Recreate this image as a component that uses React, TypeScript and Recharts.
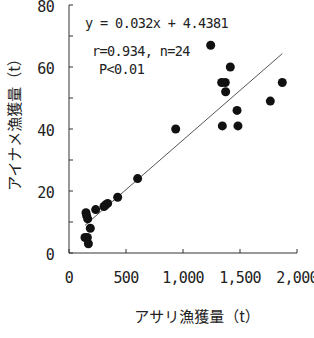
import { ScatterChart, Scatter, XAxis, YAxis, ReferenceLine, Label } from 'recharts';

// アサリ漁獲量 (t) vs アイナメ漁獲量 (t), one point per year
const asariCatch = [
  1243, 1415, 1339, 1371, 1374, 1871, 1766, 1474, 1345, 1482, 936,
  602, 427, 339, 307, 234, 149, 164, 187, 140, 161, 170, 155, 320,
];
const ainameCatch = [
  67, 60, 55, 55, 52, 55, 49, 46, 41, 41, 40,
  24, 18, 16, 15, 14, 13, 11, 8, 5, 5, 3, 12, 15.5,
];

const xTicks = [0, 500, 1000, 1500, 2000];
const yTicks = [0, 10, 20, 30, 40, 50, 60, 70, 80];

const slope = 0.032;
const intercept = 4.4381;
const statLines = ['y = 0.032x + 4.4381', 'r=0.934, n=24', 'P<0.01'];

const points = asariCatch.map((x, i) => ({ x, y: ainameCatch[i] }));
const xMin = Math.min(...asariCatch);
const xMax = Math.max(...asariCatch);

const MONO = '"DejaVu Sans Mono", monospace';
const JP = '"Noto Sans CJK JP", sans-serif';
const INK = '#222';

const tickStyle = { fill: INK, fontFamily: MONO, fontSize: 15, letterSpacing: -0.7 };

function Dot(props: { cx?: number; cy?: number }) {
  if (props.cx == null || props.cy == null) return null;
  return <circle cx={props.cx} cy={props.cy} r={4.5} fill="#111" />;
}

function StatText({ x, y, children }: { x: number; y: number; children: string }) {
  return (
    <text x={x} y={y} fill={INK} fontFamily={MONO} fontSize={13.5} letterSpacing={-0.6}>
      {children}
    </text>
  );
}

export default function App() {
  return (
    <div style={{ position: 'absolute', left: 0, top: 0 }}>
      <ScatterChart width={314} height={338} margin={{ top: 5, right: 17, bottom: 0, left: 0 }}>
        <XAxis
          type="number"
          dataKey="x"
          domain={[0, 2000]}
          ticks={xTicks}
          interval={0}
          tickFormatter={(v: number) => v.toLocaleString('en-US')}
          tickSize={-4}
          tickMargin={23}
          height={85}
          stroke="#333"
          tick={tickStyle}
        >
          <Label
            content={() => (
              <text x={197} y={322} textAnchor="middle" fill={INK} fontFamily={JP} fontSize={15}>
                アサリ漁獲量（t）
              </text>
            )}
          />
        </XAxis>
        <YAxis
          type="number"
          dataKey="y"
          domain={[0, 80]}
          ticks={yTicks}
          interval={0}
          tickFormatter={(v: number) => (v % 20 === 0 ? String(v) : '')}
          tickSize={-4}
          tickMargin={19}
          width={69}
          stroke="#333"
          tick={{ ...tickStyle, dy: 1.5 }}
        >
          <Label
            content={() => (
              <text
                x={13}
                y={121}
                transform="rotate(-90 13 121)"
                textAnchor="middle"
                dominantBaseline="central"
                fill={INK}
                fontFamily={JP}
                fontSize={15}
              >
                アイナメ漁獲量（t）
              </text>
            )}
          />
        </YAxis>
        <ReferenceLine
          segment={[
            { x: xMin, y: slope * xMin + intercept },
            { x: xMax, y: slope * xMax + intercept },
          ]}
          stroke="#555"
          strokeWidth={1}
        />
        <Scatter data={points} shape={Dot} isAnimationActive={false} />
        <StatText x={85} y={28}>{statLines[0]}</StatText>
        <StatText x={92} y={56}>{statLines[1]}</StatText>
        <StatText x={99} y={74}>{statLines[2]}</StatText>
      </ScatterChart>
    </div>
  );
}
